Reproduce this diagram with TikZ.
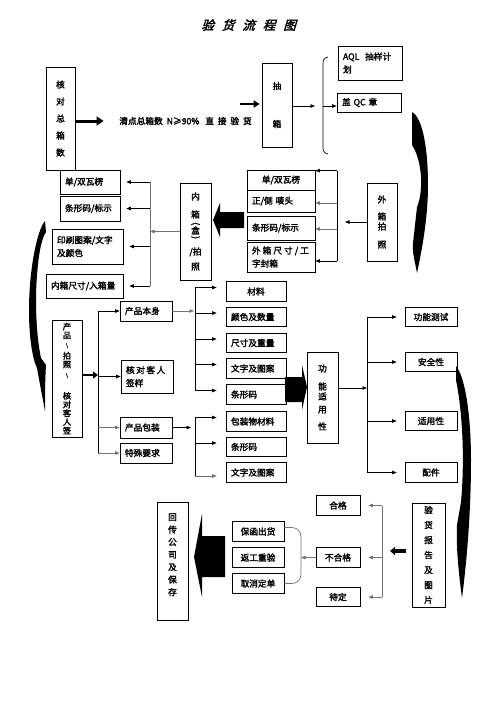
\documentclass[tikz,border=0pt]{standalone}
\usepackage{fontspec}
\setmainfont{Noto Sans CJK SC}[FakeBold=2.2]
\newfontfamily\titlefont{Noto Sans CJK SC}[FakeBold=2.5,FakeSlant=0.3]
\usetikzlibrary{arrows.meta}
\usetikzlibrary{positioning}

\begin{document}
\begin{tikzpicture}[x=1pt,y=-1pt,line width=0.7pt,>={Triangle[length=4.5pt,width=3.5pt]}]
\tikzstyle{box}=[draw, inner xsep=5pt, inner ysep=0pt, align=left, font=\fontsize{8.7}{13}\selectfont]
\tikzstyle{vbox}=[draw, inner sep=0pt, align=center, font=\fontsize{8.7}{17}\selectfont]
\tikzstyle{fat}=[line width=3pt, -{Triangle[length=7pt,width=9pt]}]
\tikzstyle{gl}=[draw=black!55]
\useasboundingbox (0,0) rectangle (496,702);

\node[font=\titlefont\fontsize{12.5}{14}\selectfont] (title) at (248.5,25) {验\hspace{8pt}货\hspace{8pt}流\hspace{8pt}程\hspace{8pt}图};

% top row
\node[vbox, minimum width=29pt, minimum height=103pt] (zong) at (60.5,118.5) {核\\对\\总\\箱\\数};
\node[font=\fontsize{8.7}{10}\selectfont] (qingdian) at (185.5,121) {清点总箱数\ \ N≥90\%\ \ \ 直\ \ 接\ \ 验\ \ 货};
\node[vbox, minimum width=30pt, minimum height=84pt, font=\fontsize{8.7}{14}\selectfont] (chouxiang) at (277,105) {抽\\[24pt]箱};
\node[box, text width=54pt, minimum height=34pt] (aql) at (370,63) {AQL\ \ 抽样计\\划};
\node[box, text width=54pt, minimum height=19pt] (qc) at (369,102.5) {盖 QC 章};

\draw[fat, shorten >=12pt] (zong.east |- qingdian) -- (qingdian.west);
\coordinate (fa) at (240,104);
\draw[fat, line width=2.5pt, -{Triangle[length=6pt,width=7pt]}, shorten >=2pt] (fa) -- (fa -| chouxiang.west);
\coordinate (br) at (323,106);
\draw[->, shorten >=8pt] (chouxiang.east |- br) -- (br);
\draw (328,57) .. controls (324,58) and (323,60) .. (323,64) -- (323,147) .. controls (323,151) and (324,153) .. (328,154);
\draw[->] (br) -- (br -| qc.west);

% inner and outer cartons
\node[box, text width=50pt, minimum height=24pt] (L1) at (90,182) {单/双瓦楞};
\node[box, text width=50pt, minimum height=25pt] (L2) at (90,208.5) {条形码/标示};
\node[box, text width=61pt, minimum height=35pt] (L3) at (87.5,246.5) {印刷图案/文字\\及颜色};
\node[box, text width=67pt, minimum height=24pt] (L4) at (84.5,286) {内箱尺寸/入箱量};
\node[vbox, minimum width=31pt, minimum height=97pt] (neixiang) at (195.5,231.5) {内\\[1pt]箱\\[-12.6pt]\rotatebox{-90}{(}\\[-5.4pt]盒\\[-14.6pt]\rotatebox{-90}{)}\\[1.6pt]/拍\\[-2pt]照};
\node[box, align=center, text width=58pt, minimum height=20pt] (R1) at (281,180) {单/双瓦楞};
\node[box, text width=58pt, minimum height=22pt] (R2) at (281,201) {正/侧\ 唛头};
\node[box, text width=58pt, minimum height=24pt] (R3) at (281,228) {条形码/标示};
\node[box, text width=58pt, minimum height=30pt] (R4) at (281,257) {外\kern2pt 箱\kern2pt 尺\kern2pt 寸\kern2pt /\kern2pt 工\\字封箱};
\node[vbox, minimum width=30pt, minimum height=78pt] (waixiang) at (382,222) {外\\箱\\[-7pt]拍\\[1pt]照};

\coordinate (ls) at (150,226);
\draw[gl] (ls |- L1) -- (ls |- L4);
\foreach \b in {L1,L2,L3,L4} {\draw[->, shorten >=6pt] (ls |- \b) -- (\b.east);}
\draw[->, gl] (neixiang.west) -- (ls |- neixiang);
\coordinate (nx) at (213,220);
\fill (nx) -- ++(7,-17) -- ++(0,9) -- ++(24,0) -- ++(0,16) -- ++(-24,0) -- ++(0,9) -- cycle;

\coordinate (rs) at (337,222);
\draw ([yshift=-1pt]rs |- R1.north) -- ([yshift=-4pt]rs |- R4.east);
\foreach \b/\s/\c in {R1.north east/-1/black, R2.east/-2/black!55, R3.east/-1/black!55, R4.east/-4/black} {\draw[->, draw=\c] ([yshift=\s pt]rs |- \b) -- ([yshift=\s pt]\b);}
\draw[->, shorten >=8pt] (waixiang.west) -- (rs |- waixiang.west);
\fill (412,112) .. controls (423,118) and (428,150) .. (428,185) .. controls (428,215) and (423,245) .. (417,273) .. controls (415,262) and (412,252) .. (413,243) -- (417,207) .. controls (424,190) and (422,160) .. (412,145) -- cycle;
\fill (45,221) .. controls (37,230) and (29,270) .. (29,310) .. controls (29,340) and (33,360) .. (37,368) .. controls (40,385) and (43,400) .. (45,411) .. controls (45,395) and (45,380) .. (46,365) -- (41,358) .. controls (36,335) and (35,300) .. (37,275) .. controls (39,250) and (42,238) .. (46,232) -- cycle;

% product checks
\node[vbox, minimum width=30pt, minimum height=117pt, font=\fontsize{8.2}{8.7}\selectfont] (chanpin) at (67,378.5) {产\\品\\{\fontsize{5}{8.7}\selectfont\textbackslash}\\[3pt]拍\\照\\[1pt]{\fontsize{5}{8.7}\selectfont\textbackslash}\\[13pt]核\\对\\客\\人\\签};
\node[box, text width=42pt, minimum height=20pt] (bense) at (146,311) {产品本身};
\node[box, text width=42pt, minimum height=33pt] (qianyang) at (147,376.5) {核\kern1.5pt 对\kern1.5pt 客\kern1.5pt 人\\签样};
\node[box, text width=42pt, minimum height=21pt] (baozhuang) at (146,427.5) {产品包装};
\node[box, text width=42pt, minimum height=20pt] (teshu) at (146,453) {特殊要求};
\node[box, align=center, text width=50pt, minimum height=19.5pt] (cailiao) at (256,291.5) {材料};
\foreach \n/\t/\yy in {yanse/颜色及数量/317, chicun/尺寸及重量/343, wenzi/文字及图案/368.5, tiaoma/条形码/394.5, bzcl/包装物材料/421.5, tiaomab/条形码/447, wenzib/文字及图案/472.5}
  {\node[box, text width=50pt, minimum height=19.5pt] (\n) at (256,\yy) {\t};}
\node[vbox, minimum width=31pt, minimum height=91pt, font=\fontsize{8.7}{13}\selectfont] (gongneng) at (322.5,397.5) {功\\[5pt]能\\[-3pt]适\\用\\[4pt]性};
\foreach \n/\t/\yy in {ceshi/功能测试/317, anquan/安全性/362, shiyong/适用性/421, peijian/配件/472.5}
  {\node[box, align=center, text width=42pt, minimum height=19.5pt] (\n) at (431,\yy) {\t};}

\coordinate (cs) at (98,375);
\draw[fat, line width=2.5pt, -{Triangle[length=5pt,width=7pt]}] (chanpin.east |- cs) -- (cs);
\draw (cs |- bense) -- (cs |- teshu);
\foreach \b/\c in {bense/black, qianyang/black, baozhuang/black!55, teshu/black!55} {\draw[->, draw=\c] (cs |- \b) -- (\b.west);}

\coordinate (ms) at (195,340);
\draw[->, gl, shorten >=1pt] (bense.east) -- (ms |- bense.east);
\draw ([yshift=4pt]ms |- cailiao) -- ([yshift=4pt]ms |- tiaoma);
\foreach \b in {cailiao,yanse,chicun,wenzi,tiaoma} {\draw[->, shorten >=9pt] ([yshift=4pt]ms |- \b) -- ([yshift=4pt]\b.west);}
\draw[->, shorten >=4pt] (baozhuang.east) -- (ms |- baozhuang.east);
\draw ([yshift=4pt]ms |- bzcl) -- ([yshift=-3.5pt]ms |- wenzib);
\foreach \b/\s/\c in {bzcl/4/black, tiaomab/4/black, wenzib/-3.5/black!55} {\draw[->, draw=\c, shorten >=9pt] ([yshift=\s pt]ms |- \b) -- ([yshift=\s pt]\b.west);}

\coordinate (gx) at (307,387);
\fill (gx) -- ++(-5,-22) -- ++(0,12) -- ++(-17,0) -- ++(0,25) -- ++(17,0) -- ++(0,8) -- cycle;
\coordinate (gs) at (367,388);
\draw[->] (gongneng.east |- gs) -- (gs);
\draw (gs |- ceshi) -- (gs |- peijian);
\foreach \b in {ceshi,anquan,shiyong,peijian} {\draw[->, shorten >=8pt] (gs |- \b) -- (\b.west);}
\fill (456,366) .. controls (466,378) and (471,420) .. (471,460) .. controls (471,510) and (467,560) .. (462,598) .. controls (459,575) and (456,550) .. (457,525) -- (461,502) .. controls (464,470) and (464,420) .. (456,380) -- cycle;

% report
\foreach \n/\t/\yy in {hege/合格/505.5, buhege/不合格/557.5, daiding/待定/597}
  {\node[box, align=center, text width=34pt, minimum height=19.5pt] (\n) at (338,\yy) {\t};}
\node[vbox, minimum width=33pt, minimum height=104pt, font=\fontsize{8.7}{15}\selectfont] (baogao) at (428.5,555) {验\\货\\报\\告\\及\\图\\片};
\foreach \n/\t/\yy in {baohan/保函出货/531.5, fangong/返工重验/557.5, quxiao/取消定单/583.5}
  {\node[box, align=center, text width=42pt, minimum height=19.5pt] (\n) at (258,\yy) {\t};}
\node[vbox, minimum width=31pt, minimum height=118pt, font=\fontsize{8.7}{12.5}\selectfont] (huichuan) at (172.5,561) {回\\传\\公\\司\\及\\保\\存\\\phantom{回}};

\coordinate (bs) at (382,554);
\draw[gl] (bs |- hege) -- (bs |- daiding);
\foreach \b in {hege,buhege,daiding} {\draw[->, gl, shorten >=8pt] (bs |- \b) -- (\b.east);}
\draw[fat, line width=3.5pt, -{Triangle[length=5pt,width=8pt]}, shorten <=6pt, shorten >=8pt] ([yshift=4pt]baogao.west) -- ([yshift=4pt]bs |- baogao.west);
\coordinate (bk) at (301,554);
\draw[->, gl] (buhege.west) -- (bk |- buhege.west);
\draw[gl, rounded corners=9pt] ([yshift=4pt]baohan.east) -- ([yshift=4pt]bk |- baohan.east) -- (bk |- quxiao.east) -- (quxiao.east);
\coordinate (hx) at (194,557);
\fill (hx) -- ++(8,-43) -- ++(0,22) -- ++(23,0) -- ++(0,41) -- ++(-23,0) -- ++(0,20) -- cycle;
\end{tikzpicture}
\end{document}
